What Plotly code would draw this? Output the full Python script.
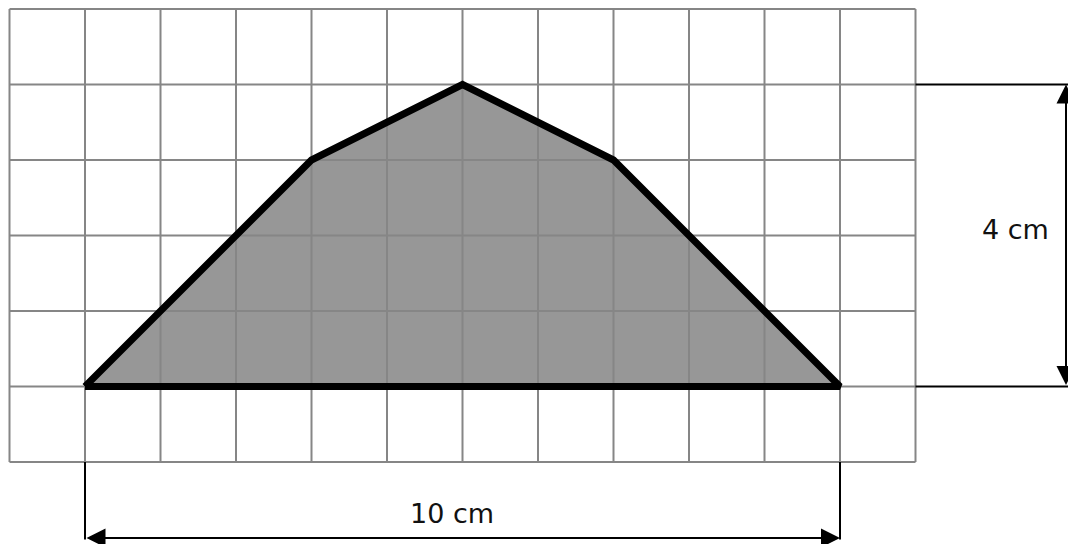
import plotly.graph_objects as go

# Shape data (grid units)
shape_x = [1, 4, 6, 8, 11]
shape_y = [1, 4, 5, 4, 1]
grid_cols = 12
grid_rows = 6
width_label = "10 cm"
height_label = "4 cm"

W, H = 1068, 544
cell = 75.5
x0px, y0px = 9.5, 462.0  # pixel position of grid origin (bottom-left)

xr = [(0 - x0px) / cell, (W - x0px) / cell]
yr = [(y0px - H) / cell, (y0px - 0) / cell]

fig = go.Figure()

# filled polygon
fig.add_trace(go.Scatter(x=shape_x + [shape_x[0]], y=shape_y + [shape_y[0]],
                         fill="toself", fillcolor="#979797", mode="lines",
                         line=dict(width=0), hoverinfo="skip"))

# grid
gx, gy = [], []
for i in range(grid_cols + 1):
    gx += [i, i, None]
    gy += [0, grid_rows, None]
for j in range(grid_rows + 1):
    gx += [0, grid_cols, None]
    gy += [j, j, None]
fig.add_trace(go.Scatter(x=gx, y=gy, mode="lines",
                         line=dict(color="#868686", width=2), hoverinfo="skip"))

# outline
fig.add_trace(go.Scatter(x=shape_x + [shape_x[0]], y=shape_y + [shape_y[0]],
                         mode="lines", line=dict(color="black", width=7),
                         hoverinfo="skip"))

# dimension extension lines
top_y = max(shape_y)
base_y = min(shape_y)
left_x = min(shape_x)
right_x = max(shape_x)
arrow_x = (1066 - x0px) / cell
arrow_y = (y0px - 538) / cell
ex, ey = [], []
ex += [grid_cols, xr[1], None, grid_cols, xr[1], None]
ey += [top_y, top_y, None, base_y, base_y, None]
ex += [left_x, left_x, None, right_x, right_x, None]
ey += [0, arrow_y - 0.02, None, 0, arrow_y - 0.02, None]
fig.add_trace(go.Scatter(x=ex, y=ey, mode="lines",
                         line=dict(color="black", width=2), hoverinfo="skip",
                         cliponaxis=False))

# arrows
fig.add_annotation(x=arrow_x, y=top_y, ax=arrow_x, ay=base_y,
                   xref="x", yref="y", axref="x", ayref="y", text="",
                   showarrow=True, arrowhead=2, arrowside="end+start",
                   arrowsize=1.9, arrowwidth=2, arrowcolor="black")
fig.add_annotation(x=right_x, y=arrow_y, ax=left_x, ay=arrow_y,
                   xref="x", yref="y", axref="x", ayref="y", text="",
                   showarrow=True, arrowhead=2, arrowside="end+start",
                   arrowsize=1.9, arrowwidth=2, arrowcolor="black")

# labels
fig.add_annotation(x=(452 - x0px) / cell, y=(y0px - 513) / cell, text=width_label,
                   showarrow=False, font=dict(family="DejaVu Sans", size=27, color="#111"))
fig.add_annotation(x=(1015 - x0px) / cell, y=(y0px - 229) / cell, text=height_label,
                   showarrow=False, font=dict(family="DejaVu Sans", size=27, color="#111"))

fig.update_xaxes(range=xr, visible=False, fixedrange=True)
fig.update_yaxes(range=yr, visible=False, fixedrange=True)
fig.update_layout(width=W, height=H, margin=dict(l=0, r=0, t=0, b=0),
                  plot_bgcolor="white", paper_bgcolor="white", showlegend=False)

fig.write_html("out.html", config={"displayModeBar": False},
               post_script="document.body.style.margin='0px';document.body.style.overflow='hidden';")
